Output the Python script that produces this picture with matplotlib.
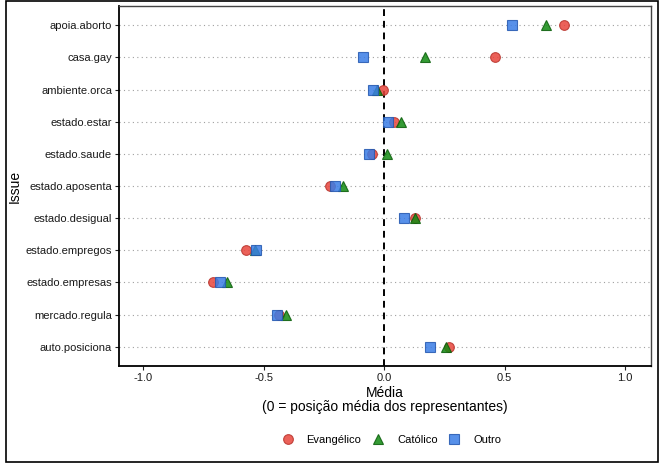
import matplotlib
matplotlib.use("Agg")
import matplotlib.pyplot as plt
from matplotlib.lines import Line2D
from matplotlib.patches import Rectangle
import numpy as np

plt.rcParams['font.family'] = ['Liberation Sans', 'DejaVu Sans']

# issues listed from top to bottom
issues = ["apoia.aborto", "casa.gay", "ambiente.orca", "estado.estar", "estado.saude",
          "estado.aposenta", "estado.desigual", "estado.empregos", "estado.empresas",
          "mercado.regula", "auto.posiciona"]
evangelico = [0.748, 0.46, -0.003, 0.041, -0.051, -0.224, 0.13, -0.573, -0.708, -0.435, 0.27]
catolico = [0.671, 0.171, -0.028, 0.069, 0.014, -0.171, 0.13, -0.535, -0.65, -0.407, 0.256]
outro = [0.531, -0.088, -0.047, 0.015, -0.061, -0.203, 0.083, -0.531, -0.68, -0.443, 0.19]

groups = ["Evangélico", "Católico", "Outro"]
series = [evangelico, catolico, outro]
markers = ["o", "^", "s"]
sizes = [7, 7.5, 6.8]
fills = ["#E8453C", "#128A12", "#3A7DE6"]
edges = ["#B8322B", "#0A5E0A", "#2458B0"]

fig = plt.figure(figsize=(6.6, 4.67), dpi=100)
ax = fig.add_axes([119/660, 1 - 366/467, (651-119)/660, (366-6)/467])

ypos = np.arange(len(issues))[::-1] + 1

for y in ypos:
    ax.axhline(y, color="#a0a0a0", lw=0.8, ls=(0, (1, 3)), zorder=1)
ax.axvline(0, color="black", lw=1.4, ls=(0, (3.5, 2.5)), zorder=2)

for vals, name, m, s, fc, ec in zip(series, groups, markers, sizes, fills, edges):
    ax.plot(vals, ypos, ls="none", marker=m, ms=s, mfc=fc, mec=ec, mew=0.8,
            alpha=0.85, zorder=3, label=name)

ax.set_xlim(-1.1, 1.108)
ax.set_ylim(0.4, len(issues) + 0.6)
ax.set_xticks([-1.0, -0.5, 0.0, 0.5, 1.0])
ax.set_xticklabels(["-1.0", "-0.5", "0.0", "0.5", "1.0"])
ax.set_yticks(ypos)
ax.set_yticklabels(issues)
ax.tick_params(axis="both", labelsize=8, length=3, width=0.8, colors="#222222",
               labelcolor="#1a1a1a", pad=2)

for side in ["left", "bottom"]:
    ax.spines[side].set_linewidth(1.3)
    ax.spines[side].set_color("black")
for side in ["top", "right"]:
    ax.spines[side].set_linewidth(1.0)
    ax.spines[side].set_color("#444444")

ax.set_xlabel("Média\n(0 = posição média dos representantes)", fontsize=10,
              labelpad=2, linespacing=1.0)
ax.set_ylabel("Issue", fontsize=10)
ax.yaxis.set_label_coords(-0.182, 0.5)

handles = [Line2D([], [], ls="none", marker=m, ms=s, mfc=fc, mec=ec, mew=0.8, alpha=0.85)
           for m, s, fc, ec in zip(markers, sizes, fills, edges)]
fig.legend(handles, groups, loc="center", bbox_to_anchor=(391/660, 1 - 440/467),
           ncol=3, frameon=False, fontsize=8, handletextpad=1.1, columnspacing=0.9,
           handlelength=1.2)

fig.patches.append(Rectangle((6/660, 1 - 462/467), (658-6)/660, (462-1)/467,
                             transform=fig.transFigure, fill=False, ec="black", lw=1.2))

fig.savefig("out.png", dpi=100)
